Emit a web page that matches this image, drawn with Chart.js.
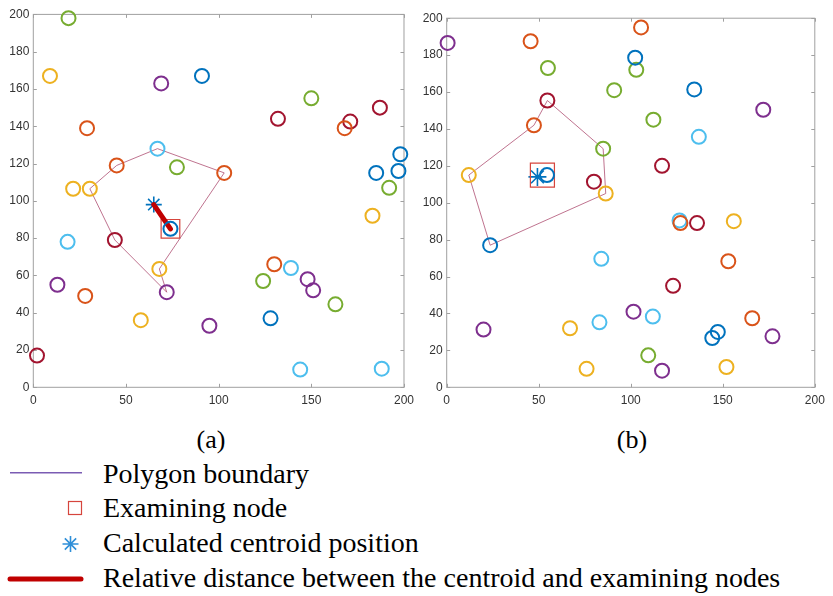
<!DOCTYPE html>
<html>
<head>
<meta charset="utf-8">
<script src="https://cdn.jsdelivr.net/npm/chart.js@4/dist/chart.umd.min.js"></script>
<style>
  body { margin: 0; background: #fff; width: 833px; height: 596px; position: relative; overflow: hidden; font-family: "Liberation Serif", "Times New Roman", serif; color: #000; }
  .plot { position: absolute; top: 0; width: 420px; height: 410px; }
  .sub { position: absolute; width: 100px; text-align: center; font-size: 26px; line-height: 26px; }
  .leg { position: absolute; left: 103px; font-size: 28px; line-height: 28px; white-space: nowrap; }
  #legendMarks { position: absolute; left: 0; top: 455px; }
</style>
</head>
<body>
<div class="plot" style="left:0"><canvas id="plotA" width="420" height="410"></canvas></div>
<div class="plot" style="left:413px"><canvas id="plotB" width="420" height="410"></canvas></div>

<div class="sub" style="left:161px;top:427px">(a)</div>
<div class="sub" style="left:582px;top:427px">(b)</div>

<canvas id="legendMarks" width="100" height="141"></canvas>
<div class="leg" style="top:460px">Polygon boundary</div>
<div class="leg" style="top:494px">Examining node</div>
<div class="leg" style="top:529px">Calculated centroid position</div>
<div class="leg" style="top:564px">Relative distance between the centroid and examining nodes</div>

<script>
// axis ticks
const xTicks = [0, 50, 100, 150, 200];
const yTicks = [0, 20, 40, 60, 80, 100, 120, 140, 160, 180, 200];

// MATLAB default line colours, used for the node circles
const nodeColors = {
    blue: '#0072BD',
    orange: '#D95319',
    yellow: '#EDB120',
    purple: '#7E2F8E',
    green: '#77AC30',
    cyan: '#4DBEEE',
    red: '#A2142F'
};
const colorOrder = ['blue', 'orange', 'yellow', 'purple', 'green', 'cyan', 'red'];

// (a) nodes
const nodesAx = [19, 9, 69, 91, 29, 132, 150, 168, 171, 187, 198, 185, 197, 192, 67, 45, 77.5, 103, 21.5, 30.5,
                 74, 18.5, 44, 68, 13, 28, 72, 58, 95, 2, 130, 139, 124, 148, 151, 163, 128, 144, 188, 183];
const nodesAy = [198, 167, 163, 167, 139, 144, 155, 139, 142.5, 150, 125, 115, 116, 107, 128, 119, 118, 115, 106.5, 106.5,
                 85, 78, 79, 63.5, 55, 49, 51, 36, 33, 17, 66, 64, 57, 58, 52, 44.5, 37, 9.5, 10, 92];
const nodesAc = ['green', 'yellow', 'purple', 'blue', 'orange', 'red', 'green', 'orange', 'red', 'red',
                 'blue', 'blue', 'blue', 'green', 'cyan', 'orange', 'green', 'orange', 'yellow', 'yellow',
                 'blue', 'cyan', 'red', 'yellow', 'purple', 'orange', 'purple', 'yellow', 'purple', 'red',
                 'orange', 'cyan', 'green', 'purple', 'purple', 'green', 'blue', 'cyan', 'cyan', 'yellow'];
const polygonAx = [30.5, 45, 67, 103, 68, 72, 44, 30.5];
const polygonAy = [106.5, 119, 128, 115, 63.5, 51, 79, 106.5];
const centroidA = [65, 98];
const examiningA = [74, 85];

// (b) nodes
const nodesBx = [0.5, 45.6, 105.6, 102.4, 55, 103, 91, 134.5, 172, 54.7, 47.4, 112.3, 137, 85, 117, 12, 54.5, 80, 86.4, 23.6,
                 127, 126.5, 136, 156, 84, 153, 123, 101.5, 112, 20, 67, 83, 166, 147.3, 144.3, 177, 109.5, 76, 117, 152];
const nodesBy = [186.6, 187.5, 195, 178.6, 173, 172, 161, 161.4, 150.4, 155.4, 142, 145, 135.7, 129.3, 120, 115, 115, 111.4, 105, 77,
                 89, 90.4, 89, 90, 69.6, 68.3, 55, 41, 38.3, 31.3, 32, 35.2, 37.4, 30, 26.7, 27.6, 17.3, 10, 9, 11];
const nodesBc = ['purple', 'orange', 'orange', 'blue', 'green', 'green', 'green', 'blue', 'purple', 'red',
                 'orange', 'green', 'cyan', 'green', 'red', 'yellow', 'blue', 'red', 'yellow', 'blue',
                 'orange', 'cyan', 'red', 'yellow', 'cyan', 'orange', 'red', 'purple', 'cyan', 'purple',
                 'yellow', 'cyan', 'orange', 'blue', 'blue', 'purple', 'green', 'yellow', 'purple', 'yellow'];
const polygonBx = [12, 47.4, 54.7, 85, 86.4, 23.6, 12];
const polygonBy = [115, 142, 155.4, 129.3, 105, 77, 115];
const centroidB = [49.3, 114];
const examiningB = [52, 115];

// box + inward ticks like MATLAB axes
const boxPlugin = {
    id: 'matlabBox',
    beforeDatasetsDraw(chart) {
        const ctx = chart.ctx;
        const a = chart.chartArea;
        const xs = chart.scales.x, ys = chart.scales.y;
        const len = 3.5;
        ctx.save();
        ctx.strokeStyle = '#a0a0a0';
        ctx.lineWidth = 1;
        ctx.strokeRect(a.left, a.top, a.right - a.left, a.bottom - a.top);
        ctx.beginPath();
        xTicks.forEach(v => {
            const px = Math.round(xs.getPixelForValue(v)) + 0.5;
            ctx.moveTo(px, a.bottom); ctx.lineTo(px, a.bottom - len);
            ctx.moveTo(px, a.top); ctx.lineTo(px, a.top + len);
        });
        yTicks.forEach(v => {
            const py = Math.round(ys.getPixelForValue(v)) + 0.5;
            ctx.moveTo(a.left, py); ctx.lineTo(a.left + len, py);
            ctx.moveTo(a.right, py); ctx.lineTo(a.right - len, py);
        });
        ctx.stroke();
        ctx.restore();
    }
};

function buildDatasets(xs, ys, cs, polyX, polyY, centroid, exam, boxRadius, starRadius, showDistance) {
    const sets = [];
    colorOrder.forEach(c => {
        const pts = [];
        xs.forEach((x, i) => { if (cs[i] === c) pts.push({ x: x, y: ys[i] }); });
        sets.push({
            data: pts,
            pointStyle: 'circle',
            pointRadius: 7,
            borderWidth: 2,
            borderColor: nodeColors[c],
            backgroundColor: 'rgba(0,0,0,0)',
            clip: false
        });
    });
    sets.push({
        data: polyX.map((x, i) => ({ x: x, y: polyY[i] })),
        showLine: true,
        borderColor: 'rgba(175, 80, 115, 0.8)',
        borderWidth: 1,
        pointRadius: 0,
        clip: false
    });
    if (showDistance) {
        sets.push({
            data: [{ x: centroid[0], y: centroid[1] }, { x: exam[0], y: exam[1] }],
            showLine: true,
            borderColor: '#C00000',
            borderWidth: 5,
            borderCapStyle: 'round',
            pointRadius: 0,
            clip: false
        });
    }
    sets.push({
        data: [{ x: exam[0], y: exam[1] }],
        pointStyle: 'rect',
        pointRadius: boxRadius,
        borderWidth: 1.2,
        borderColor: '#D6453D',
        backgroundColor: 'rgba(0,0,0,0)',
        clip: false
    });
    sets.push({
        data: [{ x: centroid[0], y: centroid[1] }],
        pointStyle: 'star',
        pointRadius: starRadius,
        borderWidth: 1.6,
        borderColor: '#0072BD',
        backgroundColor: 'rgba(0,0,0,0)',
        clip: false
    });
    return sets;
}

function makeOptions(padLeft, padRight) {
    const tickFont = { family: '"Liberation Sans", Arial, sans-serif', size: 12 };
    return {
        responsive: false,
        animation: false,
        events: [],
        layout: { padding: { top: 13.3, right: padRight, bottom: 0, left: 0 } },
        plugins: { legend: { display: false }, tooltip: { enabled: false } },
        scales: {
            x: {
                type: 'linear', min: 0, max: 200,
                afterBuildTicks: s => { s.ticks = xTicks.map(v => ({ value: v })); },
                afterFit: s => { s.height = 22.7; },
                grid: { display: false, drawTicks: false },
                border: { display: false },
                ticks: { font: tickFont, color: '#333', padding: 6, maxRotation: 0 }
            },
            y: {
                type: 'linear', min: 0, max: 200,
                afterBuildTicks: s => { s.ticks = yTicks.map(v => ({ value: v })); },
                afterFit: s => { s.width = padLeft; },
                grid: { display: false, drawTicks: false },
                border: { display: false },
                ticks: { font: tickFont, color: '#333', padding: 4 }
            }
        }
    };
}

new Chart(document.getElementById('plotA'), {
    type: 'scatter',
    data: { datasets: buildDatasets(nodesAx, nodesAy, nodesAc, polygonAx, polygonAy, centroidA, examiningA, 13.2, 8, true) },
    options: makeOptions(33.3, 12.7),
    plugins: [boxPlugin]
});

new Chart(document.getElementById('plotB'), {
    type: 'scatter',
    data: { datasets: buildDatasets(nodesBx, nodesBy, nodesBc, polygonBx, polygonBy, centroidB, examiningB, 17, 9, false) },
    options: makeOptions(33.7, 11.3),
    plugins: [boxPlugin]
});

// legend symbols
const lg = document.getElementById('legendMarks').getContext('2d');
lg.strokeStyle = '#7B5CB3';
lg.lineWidth = 1.5;
lg.beginPath(); lg.moveTo(10, 17.7); lg.lineTo(82, 17.7); lg.stroke();

lg.strokeStyle = '#D6453D';
lg.lineWidth = 1.2;
lg.strokeRect(68.5, 46.5, 13, 13);

lg.strokeStyle = '#2F8FD8';
lg.lineWidth = 1.6;
lg.beginPath();
for (let k = 0; k < 4; k++) {
    const ang = k * Math.PI / 4;
    lg.moveTo(70.5 - 8 * Math.cos(ang), 89 - 8 * Math.sin(ang));
    lg.lineTo(70.5 + 8 * Math.cos(ang), 89 + 8 * Math.sin(ang));
}
lg.stroke();

lg.strokeStyle = '#C00000';
lg.lineWidth = 5;
lg.lineCap = 'round';
lg.beginPath(); lg.moveTo(10, 124); lg.lineTo(81, 124); lg.stroke();
</script>
</body>
</html>
